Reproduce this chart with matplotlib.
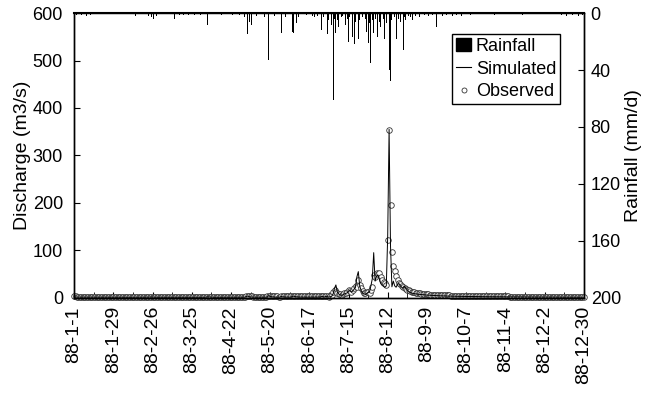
import matplotlib
matplotlib.use('Agg')
import matplotlib.pyplot as plt
from matplotlib.patches import Patch
from matplotlib.lines import Line2D
from matplotlib.ticker import MultipleLocator

plt.rcParams['font.family'] = ['Liberation Sans', 'DejaVu Sans']

# daily discharge (m3/s), 1988-01-01 .. 1988-12-30, one list per month
obs_jan = [2.6, 2.6, 2.5, 2.5, 2.5, 2.4, 2.4, 2.4, 2.4, 2.3, 2.3, 2.3, 2.3, 2.3, 2.2, 2.2,
           2.2, 2.2, 2.2, 2.1, 2.1, 2.1, 2.1, 2.1, 2.1, 2.0, 2.0, 2.0, 2.0, 2.0, 2.0]
obs_feb = [2.0, 2.0, 1.9, 1.9, 1.9, 1.9, 1.9, 1.9, 1.9, 1.9, 2.0, 2.0, 1.9, 1.9, 1.9,
           1.9, 1.9, 1.8, 1.8, 1.8, 1.8, 1.8, 1.8, 1.8, 1.8, 1.8, 1.8, 1.8, 1.8]
obs_mar = [1.8, 1.8, 1.8, 1.8, 1.8, 1.8, 1.8, 1.8, 1.8, 1.8, 1.8, 1.9, 1.9, 1.9, 1.9, 1.8,
           1.8, 1.8, 1.8, 1.8, 1.8, 1.8, 1.8, 1.8, 1.8, 1.8, 1.8, 1.8, 1.8, 1.8, 1.8]
obs_apr = [1.8, 1.8, 1.8, 1.8, 2.2, 2.4, 2.2, 2.1, 2.0, 2.0, 1.9, 1.9, 1.9, 1.9, 1.9,
           1.9, 1.9, 1.9, 1.9, 1.9, 1.9, 1.9, 1.9, 1.9, 1.9, 1.9, 1.9, 2.0, 2.0, 2.0]
obs_may = [2.1, 2.2, 2.8, 3.2, 2.9, 2.7, 2.6, 2.5, 2.5, 2.4, 2.4, 2.4, 2.3, 2.3, 2.3, 2.3,
           2.3, 2.6, 3.6, 3.4, 3.0, 2.8, 2.7, 2.6, 2.6, 2.5, 2.5, 3.0, 3.2, 2.9, 2.8]
obs_jun = [2.7, 2.7, 2.6, 2.6, 3.2, 3.5, 3.2, 3.0, 2.9, 2.8, 2.8, 2.7, 2.7, 2.7, 2.6,
           2.6, 2.6, 2.6, 2.7, 2.7, 2.7, 2.7, 2.6, 2.6, 2.8, 3.0, 2.9, 2.8, 3.2, 3.0]
obs_jul = [2.5, 3, 5, 13, 16, 13, 10, 8, 7, 6, 8, 10, 9, 12, 17, 15,
           13, 16, 20, 24, 23, 38, 27, 21, 14, 10, 9, 12, 13, 10, 17]
obs_aug = [23, 48, 44, 53, 50, 53, 44, 38, 34, 32, 27, 122, 354, 196, 97, 67,
           56, 45, 38, 32, 28, 25, 23, 21, 19, 17, 15.5, 14, 13, 12, 11]
obs_sep = [10.5, 10, 9.5, 9, 8.6, 8.2, 7.8, 7.5, 7.2, 7.0, 6.7, 6.5, 6.3, 6.1, 5.9,
           5.8, 5.6, 5.5, 5.3, 5.2, 5.1, 5.0, 4.9, 4.8, 4.7, 4.6, 4.5, 4.4, 4.3, 4.2]
obs_oct = [4.1, 4.0, 4.0, 3.9, 3.8, 3.8, 3.7, 3.6, 3.6, 3.5, 3.5, 3.4, 3.4, 3.3, 3.3, 3.2,
           3.2, 3.2, 3.1, 3.1, 3.0, 3.0, 3.0, 2.9, 2.9, 2.9, 2.8, 2.8, 2.8, 2.8, 2.7]
obs_nov = [2.7, 2.7, 2.6, 2.6, 2.6, 2.6, 2.5, 2.5, 2.5, 2.5, 2.5, 2.4, 2.4, 2.4, 2.4,
           2.4, 2.4, 2.3, 2.3, 2.3, 2.3, 2.3, 2.3, 2.3, 2.2, 2.2, 2.2, 2.2, 2.2, 2.2]
obs_dec = [2.2, 2.2, 2.1, 2.1, 2.1, 2.1, 2.1, 2.1, 2.1, 2.1, 2.0, 2.0, 2.0, 2.0, 2.0,
           2.0, 2.0, 2.0, 2.0, 2.0, 2.0, 1.9, 1.9, 1.9, 1.9, 1.9, 1.9, 1.9, 1.9, 1.9]

sim_jan = [1.3, 1.3, 1.3, 1.3, 1.3, 1.3, 1.3, 1.3, 1.2, 1.2, 1.2, 1.2, 1.2, 1.2, 1.2, 1.2,
           1.2, 1.2, 1.2, 1.2, 1.1, 1.1, 1.1, 1.1, 1.1, 1.1, 1.1, 1.1, 1.1, 1.1, 1.1]
sim_feb = [1.1, 1.1, 1.1, 1.1, 1.1, 1.0, 1.0, 1.0, 1.0, 1.0, 1.0, 1.0, 1.0, 1.0, 1.0,
           1.0, 1.0, 1.0, 1.0, 1.0, 1.0, 1.0, 1.2, 1.4, 1.5, 1.3, 1.2, 1.1, 1.1]
sim_mar = [1.1, 1.0, 1.0, 1.0, 1.0, 1.0, 1.0, 1.0, 1.0, 1.0, 1.0, 1.0, 1.3, 1.2, 1.1, 1.0,
           1.0, 1.0, 1.0, 1.0, 1.0, 1.0, 1.0, 1.0, 1.0, 1.0, 1.0, 1.0, 1.0, 1.0, 1.0]
sim_apr = [1.0, 1.0, 1.0, 1.0, 1.8, 1.6, 1.3, 1.2, 1.1, 1.0, 1.0, 1.0, 1.0, 1.0, 1.0,
           1.0, 1.0, 1.0, 1.0, 1.0, 1.0, 1.0, 1.0, 1.0, 1.0, 1.0, 1.0, 1.0, 1.0, 1.0]
sim_may = [1.0, 1.2, 2.5, 3.5, 2.2, 1.6, 1.4, 1.3, 1.2, 1.2, 1.1, 1.1, 1.1, 1.1, 1.1, 1.1,
           1.1, 1.2, 4.5, 3.0, 2.0, 1.6, 1.4, 1.3, 1.3, 1.2, 1.2, 2.6, 1.8, 1.5, 1.4]
sim_jun = [1.3, 1.3, 1.2, 1.2, 3.0, 3.2, 2.2, 1.8, 1.5, 1.4, 1.3, 1.3, 1.3, 1.2, 1.2,
           1.2, 1.2, 1.2, 1.3, 1.3, 1.4, 1.3, 1.3, 1.3, 1.4, 2.8, 1.9, 1.6, 3.2, 2.0]
sim_jul = [1.5, 2, 3, 8, 20, 27, 12, 8, 6, 5, 6, 8, 9, 10, 14, 15,
           12, 14, 18, 22, 44, 55, 25, 15, 10, 8, 7, 9, 11, 12, 25]
sim_aug = [40, 95, 35, 45, 48, 40, 30, 26, 24, 22, 25, 130, 355, 110, 23, 35,
           25, 22, 28, 30, 25, 22, 20, 24, 20, 16, 13, 11, 10, 9, 8.5]
sim_sep = [8, 7.6, 7.2, 6.9, 6.6, 6.3, 6, 5.8, 5.6, 5.4, 5.2, 5.0, 4.8, 4.6, 4.4,
           4.3, 4.1, 4.0, 3.9, 3.8, 3.7, 3.6, 3.5, 3.4, 3.3, 3.2, 3.2, 3.1, 3.0, 3.0]
sim_oct = [2.9, 2.9, 2.8, 2.8, 2.7, 2.7, 2.6, 2.6, 2.5, 2.5, 2.5, 2.4, 2.4, 2.4, 2.3, 2.3,
           2.3, 2.2, 2.2, 2.2, 2.1, 2.1, 2.1, 2.1, 2.0, 2.0, 2.0, 2.0, 1.9, 1.9, 1.9]
sim_nov = [1.9, 1.9, 1.8, 1.8, 1.8, 1.8, 1.8, 1.7, 1.7, 1.7, 1.7, 1.7, 1.6, 1.6, 1.6,
           1.6, 1.6, 1.6, 1.5, 1.5, 1.5, 1.5, 1.5, 1.5, 1.5, 1.4, 1.4, 1.4, 1.4, 1.4]
sim_dec = [1.4, 1.4, 1.4, 1.3, 1.3, 1.3, 1.3, 1.3, 1.3, 1.3, 1.3, 1.3, 1.2, 1.2, 1.2,
           1.2, 1.2, 1.2, 1.2, 1.2, 1.2, 1.2, 1.2, 1.1, 1.1, 1.1, 1.1, 1.1, 1.1, 1.1]

# rainfall (mm/d): day of year (0 = 1988-01-01) and amount
rain_days = [2, 5, 9, 12, 44, 53, 55, 57, 59, 72, 75, 78, 82, 86, 90, 95, 105, 113,
             118, 122, 124, 125, 127, 130, 136, 139, 143, 148, 151, 156, 157, 159,
             160, 166, 170, 172, 174, 177, 178, 181, 182, 184, 185, 186, 187, 188,
             189, 191, 192, 194, 195, 196, 197, 199, 200, 201, 203, 204, 206, 208,
             209, 210, 211, 212, 213, 214, 215, 217, 218, 219, 221, 222, 223, 225,
             226, 227, 229, 230, 232, 233, 235, 236, 237, 239, 240, 242, 244, 247,
             250, 253, 256, 259, 263, 266, 270, 273, 277, 283, 300, 320, 348, 352,
             356, 360, 363]
rain_mm = [1.5, 1, 2, 1, 2, 2, 3, 4, 2, 4, 1, 1.5, 1, 1.5, 1, 8, 1, 1.5,
           1, 3, 15, 6, 8, 2, 3, 33, 2, 14, 3, 13, 14, 7,
           3, 1, 2, 3, 2, 12, 3, 15, 5, 8, 61, 4, 14, 5,
           10, 3, 2, 8, 4, 20, 3, 17, 22, 6, 18, 5, 3, 4,
           13, 21, 7, 35, 5, 14, 4, 17, 6, 10, 4, 18, 7, 40,
           48, 5, 3, 18, 4, 6, 26, 3, 5, 2, 3, 5, 2, 3,
           1.5, 2, 1, 10, 2, 1.5, 2, 1, 2, 1, 1, 1, 1.5, 2,
           1.5, 2, 1]

tick_days = [0, 28, 56, 84, 112, 140, 168, 196, 224, 252, 280, 308, 336, 364]
tick_labels = ['88-1-1', '88-1-29', '88-2-26', '88-3-25', '88-4-22', '88-5-20',
               '88-6-17', '88-7-15', '88-8-12', '88-9-9', '88-10-7', '88-11-4',
               '88-12-2', '88-12-30']

observed = (obs_jan + obs_feb + obs_mar + obs_apr + obs_may + obs_jun +
            obs_jul + obs_aug + obs_sep + obs_oct + obs_nov + obs_dec)
simulated = (sim_jan + sim_feb + sim_mar + sim_apr + sim_may + sim_jun +
             sim_jul + sim_aug + sim_sep + sim_oct + sim_nov + sim_dec)
days = list(range(len(observed)))

fig = plt.figure(figsize=(6.5, 3.98), dpi=100)
ax = fig.add_axes([0.114, 0.252, 0.784, 0.715])

ax.plot(days, simulated, color='black', linewidth=0.7, zorder=3)
ax.plot(days, observed, linestyle='none', marker='o', markersize=4,
        markerfacecolor='white', markeredgecolor='#333333',
        markeredgewidth=0.6, clip_on=False, zorder=2)
ax.set_xlim(0, 364)
ax.set_ylim(0, 600)
ax.set_yticks(range(0, 601, 100))
ax.set_xticks(tick_days)
ax.set_xticklabels(tick_labels, rotation=90, fontsize=14)
ax.xaxis.set_minor_locator(MultipleLocator(14))
ax.tick_params(axis='both', which='both', direction='in')
ax.tick_params(axis='x', which='both', length=4, pad=6)
ax.tick_params(axis='y', length=4, pad=8, labelsize=13)
ax.set_ylabel('Discharge (m3/s)', fontsize=14, labelpad=1)

ax2 = ax.twinx()
ax2.bar(rain_days, rain_mm, width=0.8, color='black', zorder=3)
ax2.set_ylim(200, 0)
ax2.set_yticks(range(0, 201, 40))
ax2.tick_params(axis='y', direction='in', labelsize=13, length=4, pad=5)
ax2.set_ylabel('Rainfall (mm/d)', fontsize=14, labelpad=3)

for a in (ax, ax2):
    for s in a.spines.values():
        s.set_linewidth(1.0)
ax2.spines['top'].set_linewidth(1.5)

handles = [Patch(facecolor='black', edgecolor='black'),
           Line2D([], [], color='black', linewidth=0.8),
           Line2D([], [], linestyle='none', marker='o', markersize=3.6,
                  markerfacecolor='white', markeredgecolor='#333333',
                  markeredgewidth=0.6)]
lgd = ax2.legend(handles, ['Rainfall', 'Simulated', 'Observed'],
                 loc='upper right', bbox_to_anchor=(0.953, 0.925),
                 fontsize=13, frameon=True, fancybox=False, framealpha=1,
                 edgecolor='black', handlelength=0.85, handletextpad=0.25,
                 borderpad=0.2, labelspacing=0.3, borderaxespad=0)
lgd.get_frame().set_linewidth(1.0)

fig.savefig('out.png', dpi=100)
